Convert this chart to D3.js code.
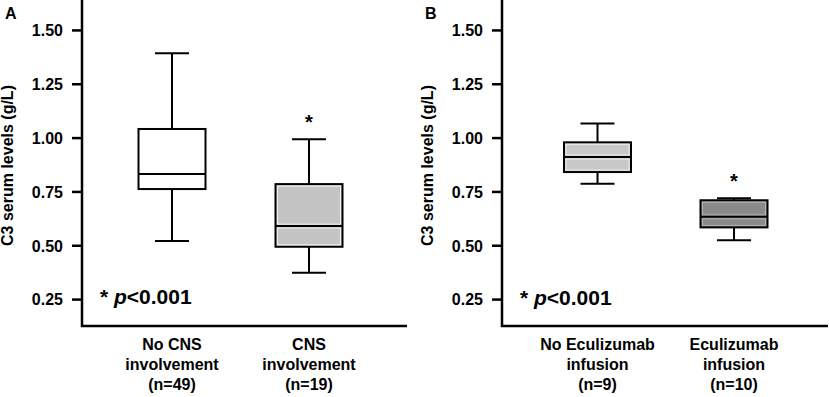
<!DOCTYPE html>
<html>
<head>
<meta charset="utf-8">
<script src="https://cdn.jsdelivr.net/npm/d3@7"></script>
<style>
  body { margin: 0; background: #fff; }
  text { font-family: "Liberation Sans", Arial, sans-serif; font-weight: bold; fill: #000; }
</style>
</head>
<body>
<div id="chart"></div>
<script>
// data
const panelLetters = ['A', 'B'];
const groupsA = ['No CNS|involvement|(n=49)', 'CNS|involvement|(n=19)'];
const groupsB = ['No Eculizumab|infusion|(n=9)', 'Eculizumab|infusion|(n=10)'];
// [lower whisker, Q1, median, Q3, upper whisker]
const statsA = [[0.52, 0.761, 0.831, 1.04, 1.392], [0.372, 0.493, 0.589, 0.784, 0.992]];
const statsB = [[0.786, 0.84, 0.91, 0.978, 1.066], [0.523, 0.583, 0.632, 0.709, 0.718]];
const starA = [false, true];
const starB = [false, true];
const yTicks = [0.25, 0.5, 0.75, 1.0, 1.25, 1.5];
const yTitle = 'C3 serum levels (g/L)';
const pText = 'p<0.001';

const width = 829, height = 397;
const svg = d3.select('#chart').append('svg')
  .attr('width', width)
  .attr('height', height);

//styles for the boxes of each panel
const boxFill = [['#ffffff', '#c4c4c4'], ['#c8c8c8', '#8a8a8a']];
const boxInner = [[null, '#f2f2f2'], ['#ececec', '#b4b4b4']];

const y = d3.scaleLinear()
  .domain([0.125, 1.639])
  .range([326, 0]);

const panels = [
  {x0: 82, right: 407, left: 90, gap: 137, groups: groupsA, stats: statsA, star: starA},
  {x0: 502, right: 828, left: 95.5, gap: 136.5, groups: groupsB, stats: statsB, star: starB}
];

panels.forEach((p, pi) => {
  const g = svg.append('g');

  const x = d3.scalePoint()
    .domain(p.groups)
    .range([p.x0 + p.left, p.x0 + p.left + p.gap]);

  //y axis
  const yAxis = g.append('g')
    .attr('transform', `translate(${p.x0},0)`)
    .call(d3.axisLeft(y).tickValues(yTicks).tickFormat(d3.format('.2f')).tickSize(10).tickPadding(9));
  yAxis.select('.domain').remove();
  yAxis.selectAll('.tick line').attr('stroke', '#000').attr('stroke-width', 2.5);
  yAxis.selectAll('.tick text').style('font-size', '16px').attr('dy', '0.36em');

  //axis lines
  g.append('path')
    .attr('d', `M${p.x0},0V${y.range()[0]}H${p.right}`)
    .attr('fill', 'none')
    .attr('stroke', '#000')
    .attr('stroke-width', 2.5);

  //panel letter
  g.append('text')
    .attr('x', p.x0 - 77)
    .attr('y', 19)
    .style('font-size', '16px')
    .text(panelLetters[pi]);

  //y title
  g.append('text')
    .attr('transform', `translate(${p.x0 - 69},${(y(1.5) + y(0.25)) / 2 + 1}) rotate(-90)`)
    .attr('text-anchor', 'middle')
    .style('font-size', '16px')
    .text(yTitle);

  //x labels
  p.groups.forEach(gr => {
    const t = g.append('text')
      .attr('text-anchor', 'middle')
      .style('font-size', '16px');
    gr.split('|').forEach((line, li) => {
      t.append('tspan')
        .attr('x', x(gr))
        .attr('y', 350 + li * 20)
        .text(line);
    });
  });

  //boxes
  const bw = 67, cw = 34;
  p.stats.forEach((s, i) => {
    const cx = x(p.groups[i]);
    const b = g.append('g');
    //whiskers
    b.append('line').attr('x1', cx).attr('x2', cx).attr('y1', y(s[4])).attr('y2', y(s[3]));
    b.append('line').attr('x1', cx).attr('x2', cx).attr('y1', y(s[1])).attr('y2', y(s[0]));
    b.append('line').attr('x1', cx - cw / 2).attr('x2', cx + cw / 2).attr('y1', y(s[4])).attr('y2', y(s[4]));
    b.append('line').attr('x1', cx - cw / 2).attr('x2', cx + cw / 2).attr('y1', y(s[0])).attr('y2', y(s[0]));
    b.selectAll('line').attr('stroke', '#000').attr('stroke-width', 2);

    b.append('rect')
      .attr('x', cx - bw / 2)
      .attr('y', y(s[3]))
      .attr('width', bw)
      .attr('height', y(s[1]) - y(s[3]))
      .attr('fill', boxFill[pi][i])
      .attr('stroke', '#000')
      .attr('stroke-width', 2);

    //light inner edge
    if (boxInner[pi][i]) {
      [[s[3], s[2]], [s[2], s[1]]].forEach(([hi, lo]) => {
        b.append('rect')
          .attr('x', cx - bw / 2 + 2)
          .attr('y', y(hi) + 2)
          .attr('width', bw - 4)
          .attr('height', Math.max(0, y(lo) - y(hi) - 4))
          .attr('fill', 'none')
          .attr('stroke', boxInner[pi][i])
          .attr('stroke-width', 1);
      });
    }

    b.append('line')
      .attr('x1', cx - bw / 2).attr('x2', cx + bw / 2)
      .attr('y1', y(s[2])).attr('y2', y(s[2]))
      .attr('stroke', '#000')
      .attr('stroke-width', 2);

    if (p.star[i]) {
      g.append('text')
        .attr('x', cx)
        .attr('y', y(s[4]) - 10)
        .attr('text-anchor', 'middle')
        .style('font-size', '20px')
        .text('*');
    }
  });

  //p value note
  const pt = g.append('text')
    .attr('x', p.x0 + 18)
    .attr('y', 304 + pi)
    .style('font-size', '21px');
  pt.append('tspan').text('* ');
  pt.append('tspan').style('font-style', 'italic').text(pText[0]);
  pt.append('tspan').text(pText.slice(1));
});
</script>
</body>
</html>
